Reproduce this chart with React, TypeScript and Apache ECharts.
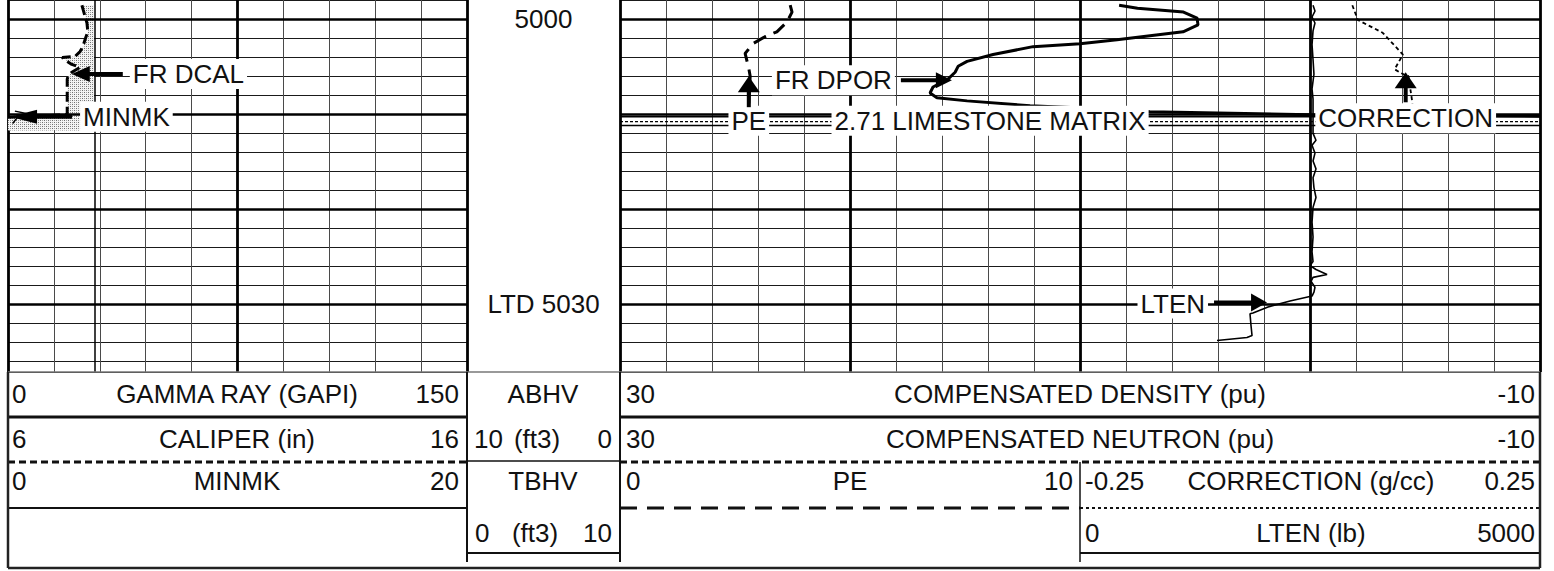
import React, { useEffect, useRef } from "react";
import * as echarts from "echarts";

// ---------------- depth scale ----------------
const DEPTH_TOP = 4998;
const PX_PER_FT = 9.6333;
const Y_5000 = 14;
const GRID_BOTTOM_Y = 372;
const DEPTH_STEP = 2;
const MAJOR_DEPTHS = [5000, 5010, 5020, 5030];
const DEPTH_LABEL_DEPTHS = [5000, 5030];
const DEPTH_LABEL_TEXTS = ["5000", "LTD 5030"];

// ---------------- curve scales ----------------
const CALIPER_RANGE = [6, 16];
const MINMK_RANGE = [0, 20];
const POROSITY_RANGE = [-10, 30]; // plotted 30 (left) -> -10 (right)
const PE_RANGE = [0, 10];
const CORRECTION_RANGE = [-0.25, 0.25];
const LTEN_RANGE = [0, 5000];
const BIT_SIZE = 7.875;

// ---------------- curves: [value, depth] ----------------
const CALIPER: number[][] = [
  [7.61, 4998.55], [7.64, 4999.07], [7.72, 5000.42], [7.74, 5001.35], [7.70, 5001.87],
  [7.63, 5002.91], [7.57, 5003.43], [7.46, 5003.94], [7.18, 5004.05], [7.29, 5004.46],
  [7.39, 5004.78], [7.57, 5005.09], [7.39, 5005.61], [7.31, 5006.02], [7.29, 5006.33],
  [7.29, 5009.65], [7.29, 5010.07], [6.0, 5010.35],
];
const CALIPER_FILL_BOTTOM = 5011.75;

const MINMK: number[][] = [
  [0.3, 5009.7], [0.9, 5010.0], [0.4, 5010.4], [0.2, 5011.0],
];

const DPOR: number[][] = [
  [8.3, 4998.55], [7.5, 4998.86], [5.5, 4999.27], [4.91, 4999.9], [4.87, 5000.62],
  [5.52, 5001.35], [8.39, 5002.18], [10.0, 5002.6], [12.04, 5002.91], [13.78, 5003.74],
  [14.91, 5004.46], [15.3, 5004.98], [15.43, 5005.61], [15.74, 5006.33], [16.39, 5007.16],
  [16.52, 5007.79], [16.22, 5008.3], [14.91, 5008.62], [12.17, 5009.14], [9.13, 5009.45],
  [6.96, 5009.76], [0.0, 5010.07], [-10, 5010.23],
];

const START_LINE_DEPTHS = [5010.28, 5010.8, 5011.21];

const PE: number[][] = [
  [3.70, 4998.55], [3.74, 4999.27], [3.63, 5000.31], [3.41, 5001.35], [3.15, 5001.87],
  [2.89, 5002.6], [2.72, 5003.63], [2.8, 5005.2], [2.83, 5006.02], [2.8, 5008.9],
];

const CORRECTION: number[][] = [
  [0.046, 4998.55], [0.052, 5000.1], [0.079, 5001.45], [0.101, 5003.74], [0.098, 5004.26],
  [0.092, 5005.29], [0.099, 5005.7], [0.107, 5006.02], [0.111, 5008.62], [0.112, 5009.6],
];

const LTEN: number[][] = [
  [2533, 4998.55], [2554, 4999.17], [2522, 4999.79], [2554, 5000.42], [2533, 5001.25],
  [2522, 5002.7], [2533, 5004.26], [2543, 5005.81], [2522, 5007.37], [2533, 5008.41],
  [2533, 5012.04], [2565, 5012.77], [2522, 5013.29], [2554, 5014.12], [2533, 5014.95],
  [2565, 5015.78], [2533, 5016.71], [2543, 5017.75], [2565, 5018.79], [2533, 5019.83],
  [2522, 5021.38], [2533, 5022.94], [2522, 5024.5], [2533, 5025.54], [2500, 5025.95],
  [2565, 5026.37], [2685, 5026.89], [2533, 5027.2], [2511, 5027.61], [2554, 5028.24],
  [2543, 5028.76], [2522, 5029.17], [2283, 5029.69], [2044, 5030.31], [1880, 5030.94],
  [1848, 5031.04], [1859, 5032.29], [1870, 5033.32], [1815, 5033.53], [1489, 5033.84],
];

// ---------------- header text ----------------
const HEADER_LEFT = [
  ["0", "GAMMA RAY (GAPI)", "150"],
  ["6", "CALIPER (in)", "16"],
  ["0", "MINMK", "20"],
];
const HEADER_DEPTH = [["ABHV"], ["10", "(ft3)", "0"], ["TBHV"], ["0", "(ft3)", "10"]];
const HEADER_WIDE = [
  ["30", "COMPENSATED DENSITY (pu)", "-10"],
  ["30", "COMPENSATED NEUTRON (pu)", "-10"],
];
const HEADER_PE = ["0", "PE", "10"];
const HEADER_T3 = [
  ["-0.25", "CORRECTION (g/cc)", "0.25"],
  ["0", "LTEN (lb)", "5000"],
];

const FONT = '"Liberation Sans", Arial, Helvetica, sans-serif';
const INK = "#111";

function stipple(): any {
  try {
    const c = document.createElement("canvas");
    c.width = 4;
    c.height = 4;
    const ctx = c.getContext("2d");
    if (!ctx) return "#c4c4c4";
    ctx.fillStyle = "#f4f4f4";
    ctx.fillRect(0, 0, 4, 4);
    ctx.fillStyle = "#6e6e6e";
    ctx.fillRect(0, 0, 1, 1);
    ctx.fillRect(2, 2, 1, 1);
    ctx.fillStyle = "#a0a0a0";
    ctx.fillRect(2, 0, 1, 1);
    ctx.fillRect(0, 2, 1, 1);
    return { image: c.toDataURL(), repeat: "repeat", imageWidth: 4, imageHeight: 4 };
  } catch (e) {
    return "#c4c4c4";
  }
}

function buildOption() {
  const gridTop = Y_5000 - (5000 - DEPTH_TOP) * PX_PER_FT;
  const gridHeight = GRID_BOTTOM_Y - gridTop;
  const depthBottom = DEPTH_TOP + gridHeight / PX_PER_FT;
  const g = (left: number, width: number) => ({ left, width, top: gridTop, height: gridHeight });

  const thinX = "#4a4a4a";
  const thinY = "#1a1a1a";

  const gridAxis = (gridIndex: number, max: number, interval: number, width: number, color: string) => ({
    type: "value", gridIndex, min: 0, max, interval,
    axisLine: { show: false }, axisTick: { show: false }, axisLabel: { show: false },
    splitLine: { show: true, lineStyle: { color, width } },
  });
  const hiddenX = (gridIndex: number, range: number[], inverse = false) => ({
    type: "value", gridIndex, min: range[0], max: range[1], inverse, show: false,
    splitLine: { show: false },
  });
  const depthAxis = (gridIndex: number, showLines: boolean) => ({
    type: "value", gridIndex, inverse: true, min: DEPTH_TOP, max: depthBottom,
    interval: DEPTH_STEP, show: showLines,
    axisLine: { show: false }, axisTick: { show: false }, axisLabel: { show: false },
    splitLine: { show: showLines, lineStyle: { color: thinY, width: 1 } },
  });

  const majorLines = MAJOR_DEPTHS.map((d) => ({ yAxis: d }));
  const noSym = { showSymbol: false, symbol: "none", silent: true, animation: false };

  const fillPoly = [
    ...CALIPER,
    [CALIPER_RANGE[0], CALIPER_FILL_BOTTOM],
    [BIT_SIZE, CALIPER_FILL_BOTTOM],
    [BIT_SIZE, CALIPER[0][1]],
  ];
  const fillStyle = stipple();

  const startStyles = [
    { type: "solid", width: 1.6 },
    { type: [3, 2], width: 1.4 },
    { type: "solid", width: 1.6 },
  ];

  return {
    animation: false,
    backgroundColor: "#ffffff",
    grid: [g(8, 459), g(467, 153), g(620, 920), g(620, 460), g(1080, 460)],
    xAxis: [
      gridAxis(0, 10, 1, 1, thinX), // 0
      gridAxis(0, 10, 5, 2.8, "#000"), // 1
      hiddenX(0, CALIPER_RANGE), // 2
      hiddenX(0, MINMK_RANGE), // 3
      hiddenX(1, [0, 1]), // 4
      gridAxis(2, 20, 1, 1, thinX), // 5
      gridAxis(2, 20, 5, 2.8, "#000"), // 6
      hiddenX(2, POROSITY_RANGE, true), // 7
      hiddenX(3, PE_RANGE), // 8
      hiddenX(4, CORRECTION_RANGE), // 9
      hiddenX(4, LTEN_RANGE), // 10
    ],
    yAxis: [depthAxis(0, true), depthAxis(1, false), depthAxis(2, true), depthAxis(3, false), depthAxis(4, false)],
    series: [
      {
        type: "custom", xAxisIndex: 2, yAxisIndex: 0, silent: true, z: 1,
        data: [[BIT_SIZE, 5005]],
        renderItem: (params: any, api: any) => {
          if (params.dataIndex !== 0) return null;
          const pts = fillPoly.map((p) => api.coord(p));
          return { type: "polygon", shape: { points: pts }, style: { fill: fillStyle, stroke: "none" } };
        },
      },
      {
        type: "line", xAxisIndex: 2, yAxisIndex: 0, data: CALIPER, ...noSym, z: 3,
        lineStyle: { color: "#000", width: 3, type: [10, 5] },
        markLine: {
          silent: true, symbol: ["none", "none"], label: { show: false }, animation: false,
          data: [
            { xAxis: BIT_SIZE, lineStyle: { color: "#000", width: 1.5, type: "solid" } },
            ...majorLines.map((m) => ({ ...m, lineStyle: { color: "#000", width: 2.6, type: "solid" } })),
          ],
        },
      },
      {
        type: "line", xAxisIndex: 3, yAxisIndex: 0, data: MINMK, ...noSym,
        lineStyle: { color: "#000", width: 1.5 },
      },
      {
        type: "scatter", xAxisIndex: 4, yAxisIndex: 1, silent: true,
        data: DEPTH_LABEL_DEPTHS.map((d) => [0.5, d]),
        symbolSize: 1, itemStyle: { color: "rgba(0,0,0,0)", opacity: 1 },
        label: {
          show: true, position: "inside", color: INK, fontSize: 26, fontFamily: FONT, opacity: 1,
          textBorderWidth: 0,
          formatter: (p: any) => DEPTH_LABEL_TEXTS[p.dataIndex],
        },
      },
      {
        type: "line", xAxisIndex: 7, yAxisIndex: 2, data: DPOR, ...noSym, z: 4,
        lineStyle: { color: "#000", width: 3 },
        markLine: {
          silent: true, symbol: ["none", "none"], label: { show: false }, animation: false,
          data: majorLines.map((m) => ({ ...m, lineStyle: { color: "#000", width: 2.6, type: "solid" } })),
        },
      },
      ...START_LINE_DEPTHS.map((d, i) => ({
        type: "line", xAxisIndex: 7, yAxisIndex: 2, ...noSym,
        data: [[POROSITY_RANGE[1], d], [POROSITY_RANGE[0], d]],
        lineStyle: { color: "#000", ...startStyles[i] },
      })),
      {
        type: "line", xAxisIndex: 8, yAxisIndex: 3, data: PE, ...noSym,
        lineStyle: { color: "#000", width: 3, type: [14, 8] },
      },
      {
        type: "line", xAxisIndex: 9, yAxisIndex: 4, data: CORRECTION, ...noSym,
        lineStyle: { color: "#000", width: 1.8, type: [4, 3] },
      },
      {
        type: "line", xAxisIndex: 10, yAxisIndex: 4, data: LTEN, ...noSym,
        lineStyle: { color: "#000", width: 1.6 },
      },
    ],
  };
}

// series indices for annotation anchors
const S_CALIPER = 1, S_MINMK = 2, S_DPOR = 4, S_PE = 8, S_CORR = 9, S_LTEN = 10;
const LABEL_ROW_DEPTH = 5010.7;

function txt(text: string, x: number, y: number, align: string, bg = false, z = 100) {
  return {
    type: "text", x, y, z, silent: true,
    style: {
      text, fill: INK, fontSize: 26, fontFamily: FONT,
      align, textAlign: align, verticalAlign: "middle", textVerticalAlign: "middle",
      ...(bg ? { backgroundColor: "#fff", padding: [2, 3] } : {}),
    },
  };
}
function ln(x1: number, y1: number, x2: number, y2: number, w: number, dash?: number[], color = "#111", z = 90) {
  return {
    type: "line", z, silent: true,
    shape: { x1, y1, x2, y2 },
    style: { stroke: color, lineWidth: w, ...(dash ? { lineDash: dash } : {}) },
  };
}
function arrow(tip: number[], dir: string, headLen: number, half: number, shaft: number) {
  const [tx, ty] = tip;
  let pts: number[][] = [];
  let sh: any;
  if (dir === "left") {
    pts = [[tx, ty], [tx + headLen, ty - half], [tx + headLen, ty + half]];
    sh = ln(tx + headLen - 1, ty, tx + headLen + shaft, ty, 4, undefined, "#000", 101);
  } else if (dir === "right") {
    pts = [[tx, ty], [tx - headLen, ty - half], [tx - headLen, ty + half]];
    sh = ln(tx - headLen + 1, ty, tx - headLen - shaft, ty, 4, undefined, "#000", 101);
  } else {
    pts = [[tx, ty], [tx - half, ty + headLen], [tx + half, ty + headLen]];
    sh = ln(tx, ty + headLen - 1, tx, ty + headLen + shaft, 4, undefined, "#000", 101);
  }
  return [{ type: "polygon", z: 101, silent: true, shape: { points: pts }, style: { fill: "#000" } }, sh];
}

function buildGraphics(chart: any) {
  const P = (si: number, v: number, d: number) => chart.convertToPixel({ seriesIndex: si }, [v, d]) as number[];
  const els: any[] = [];

  // --- in-track annotations ---
  const dcal = P(S_CALIPER, 7.39, 5005.8);
  els.push(...arrow(dcal, "left", 18, 8, 33));
  els.push(txt("FR DCAL", dcal[0] + 58, dcal[1], "left", true));

  const mk = P(S_MINMK, 0.09, 5010.28);
  els.push(...arrow(mk, "left", 27, 7, 35));
  els.push(txt("MINMK", mk[0] + 70, mk[1], "left", true));

  const dp = P(S_DPOR, 15.57, 5006.44);
  els.push(...arrow(dp, "right", 16, 8, 35));
  els.push(txt("FR DPOR", dp[0] - 57, dp[1], "right", true));

  const pe = P(S_PE, 2.8, 5006.02);
  els.push(...arrow(pe, "up", 16, 11, 15));
  const peRow = P(S_PE, 2.8, LABEL_ROW_DEPTH);
  els.push(txt("PE", pe[0], peRow[1], "center", true));

  const mx = P(S_DPOR, 13.91, LABEL_ROW_DEPTH);
  els.push(txt("2.71 LIMESTONE MATRIX", mx[0], mx[1], "center", true));

  const co = P(S_CORR, 0.104, 5005.61);
  els.push(...arrow(co, "up", 16, 11, 14));
  const coRow = P(S_CORR, 0.104, LABEL_ROW_DEPTH - 0.25);
  els.push(txt("CORRECTION", co[0], coRow[1], "center", true));

  const lt = P(S_LTEN, 2033, 5029.85);
  els.push(...arrow(lt, "right", 16, 9, 37));
  els.push(txt("LTEN", lt[0] - 59, lt[1] + 1, "right", true));

  // --- header (legend box) ---
  const R1 = 394, R2 = 439, R3 = 481, R4 = 533;
  const H = (t: string, x: number, y: number, a: string) => txt(t, x, y, a, false, 110);
  [R1, R2, R3].forEach((y, i) => {
    els.push(H(HEADER_LEFT[i][0], 12, y, "left"));
    els.push(H(HEADER_LEFT[i][1], 237, y, "center"));
    els.push(H(HEADER_LEFT[i][2], 459, y, "right"));
  });
  els.push(H(HEADER_DEPTH[0][0], 543, R1, "center"));
  els.push(H(HEADER_DEPTH[1][0], 474, R2, "left"));
  els.push(H(HEADER_DEPTH[1][1], 537, R2, "center"));
  els.push(H(HEADER_DEPTH[1][2], 612, R2, "right"));
  els.push(H(HEADER_DEPTH[2][0], 543, R3, "center"));
  els.push(H(HEADER_DEPTH[3][0], 475, R4, "left"));
  els.push(H(HEADER_DEPTH[3][1], 535, R4, "center"));
  els.push(H(HEADER_DEPTH[3][2], 612, R4, "right"));
  [R1, R2].forEach((y, i) => {
    els.push(H(HEADER_WIDE[i][0], 626, y, "left"));
    els.push(H(HEADER_WIDE[i][1], 1080, y, "center"));
    els.push(H(HEADER_WIDE[i][2], 1535, y, "right"));
  });
  els.push(H(HEADER_PE[0], 626, R3, "left"));
  els.push(H(HEADER_PE[1], 850, R3, "center"));
  els.push(H(HEADER_PE[2], 1073, R3, "right"));
  [R3, R4].forEach((y, i) => {
    els.push(H(HEADER_T3[i][0], 1085, y, "left"));
    els.push(H(HEADER_T3[i][1], 1311, y, "center"));
    els.push(H(HEADER_T3[i][2], 1535, y, "right"));
  });

  // header rules
  els.push(ln(8, 417, 467, 417, 3));
  els.push(ln(620, 417, 1540, 417, 3));
  els.push(ln(8, 462, 467, 462, 3, [7, 4]));
  els.push(ln(620, 462, 1540, 462, 3, [7, 4]));
  els.push(ln(467, 461, 620, 461, 1.5));
  els.push(ln(8, 508, 467, 508, 2));
  els.push(ln(620, 508, 1080, 508, 3, [17, 10]));
  els.push(ln(1080, 508, 1540, 508, 2, [3, 3]));
  els.push(ln(467, 553, 620, 553, 2));
  els.push(ln(1080, 553, 1540, 553, 2));
  els.push(ln(467, 372, 467, 562, 2));
  els.push(ln(620, 372, 620, 562, 2));
  els.push(ln(1080, 462, 1080, 562, 1.5));
  els.push(ln(8, 372, 8, 568, 2.5, undefined, "#222"));
  els.push(ln(1540, 372, 1540, 568, 2.5, undefined, "#222"));
  els.push(ln(8, 568, 1540, 568, 2.5, undefined, "#222"));
  els.push(ln(8, 372, 1540, 372, 1.5, undefined, "#777", 80));

  return els;
}

export default function App() {
  const ref = useRef<HTMLDivElement>(null);
  useEffect(() => {
    if (!ref.current) return;
    const chart = echarts.init(ref.current, null, { renderer: "svg" });
    chart.setOption(buildOption() as any);
    chart.setOption({ graphic: buildGraphics(chart) } as any);
    return () => chart.dispose();
  }, []);
  return (
    <div
      ref={ref}
      style={{ position: "fixed", left: 0, top: 0, width: 1554, height: 571, background: "#fff" }}
    />
  );
}
